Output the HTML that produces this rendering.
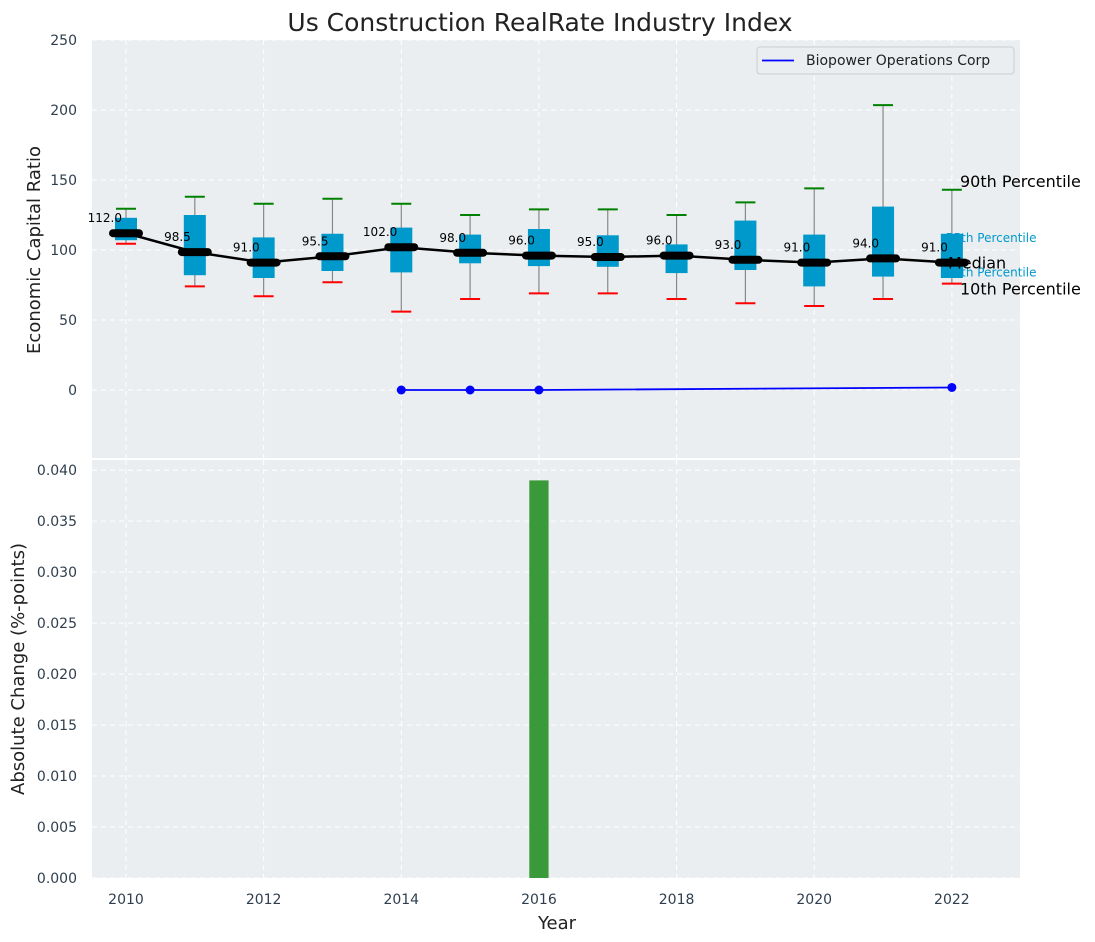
<!DOCTYPE html>
<html><head><meta charset="utf-8"><style>
body{margin:0;background:#fff;}
svg{display:block;font-family:"DejaVu Sans","Liberation Sans",sans-serif;}
</style></head><body>
<svg id="c" width="1095" height="942" xmlns="http://www.w3.org/2000/svg"></svg>
<script>
const years=[2010,2011,2012,2013,2014,2015,2016,2017,2018,2019,2020,2021,2022];
const medians=[112,98.5,91,95.5,102,98,96,95,96,93,91,94,91];
const q1=[107,82,80,85,84,90.5,88.5,88,83.5,85.7,74,81,80];
const q3=[123,125,109,111.6,116,111,115,110.5,104,121,111,131,111.6];
const p10=[104.5,74,67,77,56,65,69,69,65,62,60,65,76];
const p90=[129.5,138,133,136.6,133,125,129,129,125,134,144,203.5,143];
const bioYears=[2014,2015,2016,2022];
const bioValues=[0,0,0,1.8];
const changeYears=[2016];
const changeValues=[0.039];
const topTicks=[0,50,100,150,200,250];
const botTicks=[0,0.005,0.01,0.015,0.02,0.025,0.03,0.035,0.04];
const xTicks=[2010,2012,2014,2016,2018,2020,2022];

const svg=document.getElementById('c');
const NS='http://www.w3.org/2000/svg';
function el(t,a,p){const e=document.createElementNS(NS,t);for(const k in a)e.setAttribute(k,a[k]);(p||svg).appendChild(e);return e;}
const L=92,R=1020,T1=40,B1=458,T2=460,B2=878;
const X=v=>L+(v-2009.506)/(2022.99-2009.506)*(R-L);
const Y1=v=>390-v*1.4;
const Y2=v=>B2-v/0.041*(B2-T2);
const tc='#2f3e4e';

let e=el('rect',{x:L,y:T1,width:R-L,height:B1-T1,fill:'#eaeef0'});

e=el('rect',{x:L,y:T2,width:R-L,height:B2-T2,fill:'#eaeef0'});


xTicks.forEach(v=>{
 el('line',{x1:X(v),x2:X(v),y1:T1,y2:B1,stroke:'#fff','stroke-dasharray':'5,4','stroke-width':1});
 el('line',{x1:X(v),x2:X(v),y1:T2,y2:B2,stroke:'#fff','stroke-dasharray':'5,4','stroke-width':1});
 const t=el('text',{x:X(v),y:B2+26,'text-anchor':'middle','font-size':14,fill:tc});t.textContent=v;
 
});
topTicks.forEach(v=>{
 el('line',{x1:L,x2:R,y1:Y1(v),y2:Y1(v),stroke:'#fff','stroke-dasharray':'5,4'});
 const t=el('text',{x:77,y:Y1(v)+5,'text-anchor':'end','font-size':14,fill:tc});t.textContent=v;
 
});
botTicks.forEach(v=>{
 el('line',{x1:L,x2:R,y1:Y2(v),y2:Y2(v),stroke:'#fff','stroke-dasharray':'5,4'});
 const t=el('text',{x:77,y:Y2(v)+5,'text-anchor':'end','font-size':14,fill:tc});t.textContent=v.toFixed(3);
 
});

const lx=X(2022);
[['75th Percentile',q3[12]-3,'#0099cc',12],['25th Percentile',q1[12]+4,'#0099cc',12]].forEach(a=>{
 const t=el('text',{x:lx-6,y:Y1(a[1])+4,'font-size':a[3],fill:a[2]});t.textContent=a[0];
 
});

const bw=(X(1)-X(0))*0.32;
years.forEach((y,i)=>{
 const x=X(y);
 let g=el('line',{x1:x,x2:x,y1:Y1(p10[i]),y2:Y1(p90[i]),stroke:'#888','stroke-width':1.2});
 
 g=el('rect',{x:x-bw/2,y:Y1(q3[i]),width:bw,height:Y1(q1[i])-Y1(q3[i]),fill:'#0099cc'});
 
 g=el('line',{x1:x-10,x2:x+10,y1:Y1(p90[i]),y2:Y1(p90[i]),stroke:'green','stroke-width':2});
 
 g=el('line',{x1:x-10,x2:x+10,y1:Y1(p10[i]),y2:Y1(p10[i]),stroke:'red','stroke-width':2});
 
});
let pts=years.map((y,i)=>X(y)+','+Y1(medians[i])).join(' ');
e=el('polyline',{points:pts,fill:'none',stroke:'#000','stroke-width':2.5});

years.forEach((y,i)=>{
 const x=X(y),yy=Y1(medians[i]);
 let g=el('line',{x1:x-13,x2:x+13,y1:yy,y2:yy,stroke:'#000','stroke-width':8,'stroke-linecap':'round'});
 
 g=el('text',{x:x-4,y:yy-11,'text-anchor':'end','font-size':12,fill:'#000'});g.textContent=medians[i].toFixed(1);
 
});
[['90th Percentile',p90[12],960,-3],['Median',medians[12],948,6],['10th Percentile',p10[12],960,11]].forEach(a=>{
 const t=el('text',{x:a[2],y:Y1(a[1])+a[3],'font-size':16,fill:'#000'});t.textContent=a[0];
 
});

pts=bioYears.map((y,i)=>X(y)+','+Y1(bioValues[i])).join(' ');
e=el('polyline',{points:pts,fill:'none',stroke:'#0000ff','stroke-width':1.8});

bioYears.forEach((y,i)=>{
 const c=el('circle',{cx:X(y),cy:Y1(bioValues[i]),r:4.5,fill:'#0000ff'});
 
});

const barW=(X(1)-X(0))*0.28;
changeYears.forEach((y,i)=>{
 const r=el('rect',{x:X(y)-barW/2,y:Y2(changeValues[i]),width:barW,height:Y2(0)-Y2(changeValues[i]),fill:'#3a9a3a'});
 
});

const lg=el('g',{});

el('rect',{x:757,y:47,width:257,height:27,rx:3,fill:'#eaeef0',stroke:'#ccc'},lg);
el('line',{x1:762,x2:794,y1:60.5,y2:60.5,stroke:'#0000ff','stroke-width':1.8},lg);
let t=el('text',{x:806,y:65,'font-size':14,fill:'#222'},lg);t.textContent='Biopower Operations Corp';


t=el('text',{x:540,y:31,'text-anchor':'middle','font-size':25,fill:'#222'});t.textContent='Us Construction RealRate Industry Index';

t=el('text',{x:0,y:0,'text-anchor':'middle','font-size':18,fill:'#222',transform:'translate(40,250) rotate(-90)'});t.textContent='Economic Capital Ratio';

t=el('text',{x:0,y:0,'text-anchor':'middle','font-size':18,fill:'#222',transform:'translate(24,669) rotate(-90)'});t.textContent='Absolute Change (%-points)';

t=el('text',{x:557,y:929,'text-anchor':'middle','font-size':18,fill:'#222'});t.textContent='Year';

</script>
</body></html>
